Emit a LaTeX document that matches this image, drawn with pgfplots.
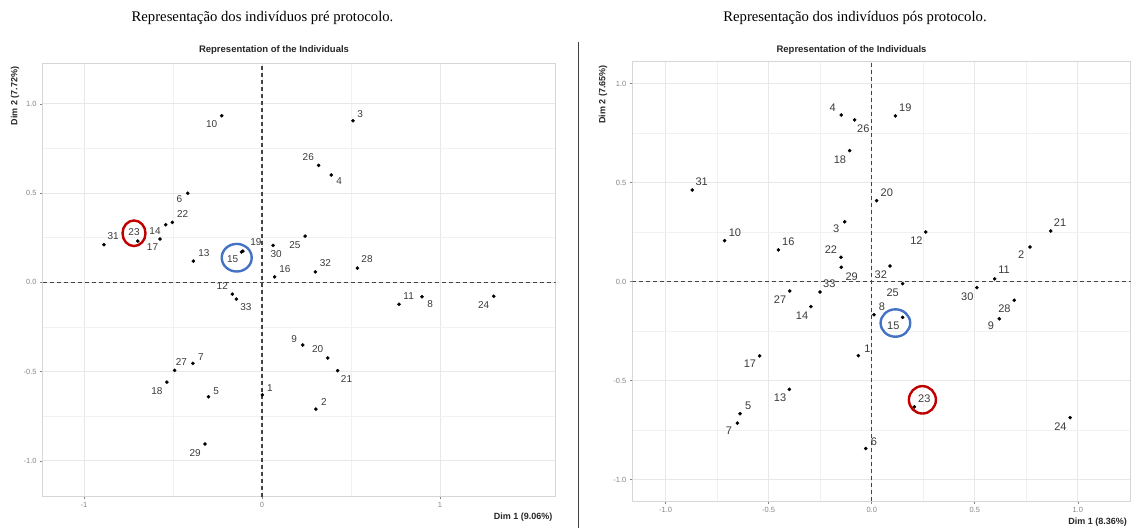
\documentclass[border=0pt]{standalone}
\usepackage{pgfplots}
\pgfplotsset{compat=1.18}
\usepackage{pgfplotstable}
\usepackage{fontspec}
\setmainfont{Liberation Serif}
\newfontfamily\arial{Liberation Sans}

\definecolor{gridmaj}{HTML}{E8E8E8}
\definecolor{gridmin}{HTML}{F1F1F1}
\definecolor{framec}{HTML}{D6D6D6}
\definecolor{tickgray}{HTML}{858585}
\definecolor{labgray}{HTML}{3A3A3A}
\definecolor{zerol}{HTML}{444444}
\definecolor{redc}{HTML}{C00000}
\definecolor{bluec}{HTML}{4472C4}

\pgfplotstableread{
x y lx ly lab
0.002 -0.631 0.045 -0.592 1
0.303 -0.710 0.348 -0.672 2
0.511 0.905 0.551 0.941 3
0.389 0.601 0.433 0.566 4
-0.301 -0.641 -0.258 -0.607 5
-0.417 0.499 -0.464 0.465 6
-0.388 -0.454 -0.343 -0.418 7
0.899 -0.081 0.944 -0.122 8
0.229 -0.351 0.180 -0.318 9
-0.226 0.933 -0.283 0.885 10
0.770 -0.123 0.824 -0.077 11
-0.167 -0.066 -0.223 -0.019 12
-0.386 0.119 -0.326 0.166 13
-0.541 0.323 -0.601 0.289 14
-0.115 0.170 -0.165 0.129 15
0.071 0.031 0.129 0.073 16
-0.573 0.243 -0.615 0.200 17
-0.534 -0.559 -0.590 -0.607 18
-0.107 0.175 -0.034 0.228 19
0.369 -0.424 0.313 -0.375 20
0.425 -0.495 0.475 -0.543 21
-0.504 0.336 -0.446 0.383 22
-0.698 0.231 -0.719 0.280 23
1.302 -0.078 1.245 -0.125 24
0.242 0.259 0.185 0.209 25
0.318 0.655 0.260 0.700 26
-0.491 -0.493 -0.453 -0.447 27
0.536 0.080 0.590 0.129 28
-0.320 -0.906 -0.376 -0.955 29
0.062 0.207 0.079 0.159 30
-0.888 0.211 -0.836 0.259 31
0.300 0.059 0.356 0.106 32
-0.144 -0.094 -0.090 -0.137 33
}\predata

\pgfplotstableread{
x y lx ly lab
-0.065 -0.374 -0.021 -0.340 1
0.768 0.175 0.726 0.138 2
-0.131 0.302 -0.173 0.265 3
-0.148 0.842 -0.189 0.879 4
-0.639 -0.667 -0.599 -0.629 5
-0.029 -0.843 0.011 -0.810 6
-0.652 -0.715 -0.693 -0.753 7
0.011 -0.167 0.050 -0.129 8
0.619 -0.188 0.578 -0.225 9
-0.714 0.207 -0.664 0.248 10
0.597 0.014 0.642 0.059 11
0.262 0.251 0.217 0.207 12
-0.400 -0.544 -0.445 -0.587 13
-0.295 -0.126 -0.338 -0.172 14
0.150 -0.180 0.105 -0.222 15
-0.453 0.160 -0.405 0.202 16
-0.544 -0.375 -0.591 -0.414 17
-0.107 0.662 -0.154 0.618 18
0.115 0.837 0.163 0.877 19
0.024 0.409 0.073 0.451 20
0.869 0.256 0.914 0.296 21
-0.149 0.123 -0.198 0.164 22
0.207 -0.633 0.255 -0.592 23
0.963 -0.687 0.916 -0.732 24
0.150 -0.010 0.102 -0.054 25
-0.083 0.817 -0.041 0.771 26
-0.398 -0.047 -0.445 -0.092 27
0.692 -0.094 0.644 -0.139 28
-0.148 0.073 -0.097 0.025 29
0.510 -0.030 0.464 -0.076 30
-0.871 0.463 -0.825 0.505 31
0.089 0.079 0.044 0.034 32
-0.251 -0.052 -0.206 -0.010 33
}\posdata

\pgfplotsset{
  pcastyle/.style={
    scale only axis,
    axis line style={draw=framec, line width=0.7pt},
    grid=both,
    major grid style={draw=gridmaj, line width=0.8pt},
    minor grid style={draw=gridmin, line width=0.6pt},
    tick pos=left,
    tick align=outside,
    major tick length=2.5pt,
    minor tick length=0pt,
    tick style={draw=tickgray, line width=0.5pt},
    ticklabel style={font=\arial\fontsize{7.5}{8}\selectfont, text=tickgray},
    /pgf/number format/assume math mode=true,
    ytick={-1,-0.5,0,0.5,1},
    minor y tick num=1,
    minor x tick num=1,
    y tick label style={/pgf/number format/fixed, /pgf/number format/fixed zerofill, /pgf/number format/precision=1},
  }
}

\begin{document}
\begin{tikzpicture}
% ---------- left panel ----------
\begin{axis}[pcastyle,
  at={(42.7pt,31.3pt)}, anchor=south west,
  width=513pt, height=433.7pt,
  xmin=-1.232, xmax=1.65, ymin=-1.201, ymax=1.229,
  xtick={-1,0,1},
  x tick label style={/pgf/number format/fixed, /pgf/number format/precision=0},
]
\addplot[zerol, line width=1.3pt, dash pattern=on 4pt off 3pt, forget plot] coordinates {(0,-1.201) (0,1.229)};
\addplot[zerol, line width=1.3pt, dash pattern=on 4pt off 3pt, forget plot] coordinates {(-1.232,0) (1.65,0)};
\addplot[only marks, mark=*, mark size=1.6pt, black] table[x=x, y=y]{\predata};
\addplot[draw=none, mark=none, nodes near coords, point meta=explicit symbolic,
  nodes near coords align=center,
  every node near coord/.append style={font=\arial\fontsize{10}{10}\selectfont, text=labgray, inner sep=0pt, anchor=center}]
  table[x=lx, y=ly, meta=lab]{\predata};
\draw[redc, line width=2.4pt] (axis cs:-0.719,0.275) ellipse [x radius=11.5pt, y radius=12.8pt];
\draw[bluec, line width=2.4pt] (axis cs:-0.142,0.138) ellipse [x radius=15pt, y radius=13.8pt];
\end{axis}
% ---------- right panel ----------
\begin{axis}[pcastyle,
  at={(632.3pt,27pt)}, anchor=south west,
  width=498.4pt, height=439.3pt,
  xmin=-1.162, xmax=1.257, ymin=-1.108, ymax=1.111,
  xtick={-1,-0.5,0,0.5,1},
  x tick label style={/pgf/number format/fixed, /pgf/number format/fixed zerofill, /pgf/number format/precision=1},
]
\addplot[zerol, line width=1.3pt, dash pattern=on 4pt off 3pt, forget plot] coordinates {(0,-1.108) (0,1.111)};
\addplot[zerol, line width=1.3pt, dash pattern=on 4pt off 3pt, forget plot] coordinates {(-1.162,0) (1.257,0)};
\addplot[only marks, mark=*, mark size=1.6pt, black] table[x=x, y=y]{\posdata};
\addplot[draw=none, mark=none, nodes near coords, point meta=explicit symbolic,
  nodes near coords align=center,
  every node near coord/.append style={font=\arial\fontsize{11}{11}\selectfont, text=labgray, inner sep=0pt, anchor=center}]
  table[x=lx, y=ly, meta=lab]{\posdata};
\draw[bluec, line width=2.4pt] (axis cs:0.115,-0.209) ellipse [x radius=14.8pt, y radius=13.7pt];
\draw[redc, line width=2.4pt] (axis cs:0.246,-0.597) ellipse [x radius=13.5pt, y radius=13.7pt];
\end{axis}
% ---------- texts ----------
\node[anchor=base, font=\fontsize{14.7}{16}\selectfont] at (262.5pt,506.3pt) {Representação dos indivíduos pré protocolo.};
\node[anchor=base, font=\fontsize{14.7}{16}\selectfont] at (855pt,506.3pt) {Representação dos indivíduos pós protocolo.};
\node[anchor=base, font=\arial\bfseries\fontsize{9.5}{11}\selectfont, text=black!85] at (274pt,475.5pt) {Representation of the Individuals};
\node[anchor=base, font=\arial\bfseries\fontsize{9.5}{11}\selectfont, text=black!85] at (851.5pt,475.5pt) {Representation of the Individuals};
\node[anchor=east, font=\arial\bfseries\fontsize{9}{10}\selectfont, text=black!85] at (556pt,11.3pt) {Dim 1 (9.06\%)};
\node[anchor=east, font=\arial\bfseries\fontsize{9}{10}\selectfont, text=black!85] at (1130.5pt,6.3pt) {Dim 1 (8.36\%)};
\node[anchor=east, rotate=90, font=\arial\bfseries\fontsize{9}{10}\selectfont, text=black!85] at (15pt,465pt) {Dim 2 (7.72\%)};
\node[anchor=east, rotate=90, font=\arial\bfseries\fontsize{9}{10}\selectfont, text=black!85] at (603pt,466.3pt) {Dim 2 (7.65\%)};
\draw[black!75, line width=0.8pt] (578pt,0pt) -- (578pt,486pt);
\pgfresetboundingbox
\path[use as bounding box] (0pt,0pt) rectangle (1132pt,528pt);
\end{tikzpicture}
\end{document}
